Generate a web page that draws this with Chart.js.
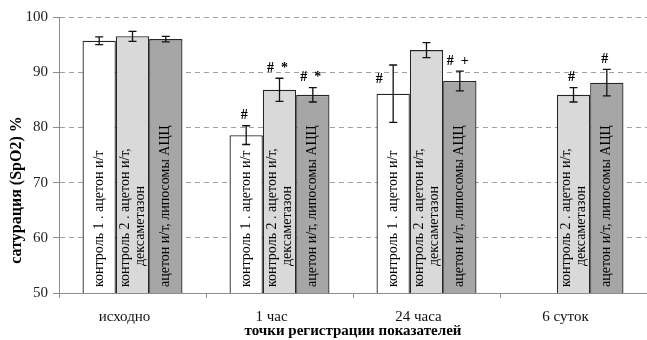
<!DOCTYPE html>
<html lang="ru">
<head>
  <meta charset="UTF-8">
  <title>Сатурация SpO2</title>
  <script src="https://cdn.jsdelivr.net/npm/chart.js"></script>
  <style>
    html, body {
      margin: 0;
      padding: 0;
      background: #ffffff;
    }
    #wrap {
      width: 647px;
      height: 340px;
      position: relative;
    }
  </style>
</head>
<body>
  <div id="wrap">
    <canvas id="chart"></canvas>
  </div>

  <script>
    // точки регистрации
    const categories = ['исходно', '1 час', '24 часа', '6 суток'];

    // средние значения SpO2, %
    const control1 = [95.7, 78.6, 86.1, null];
    const control2 = [96.5, 86.8, 94.0, 85.9];
    const liposomes = [96.0, 85.9, 88.4, 88.1];

    // ошибки среднего
    const control1Err = [0.7, 1.7, 5.2, null];
    const control2Err = [0.9, 2.1, 1.35, 1.3];
    const liposomesErr = [0.5, 1.3, 1.8, 2.4];

    // значки достоверности
    const control1Marks = ['', '#', '#', ''];
    const control2Marks = ['', '#  *', '', '#'];
    const liposomesMarks = ['', '#  *', '#  +', '#'];

    // подписи внутри столбиков
    const control1Text = ['контроль 1 . ацетон и/т'];
    const control2Text = ['контроль 2 . ацетон и/т,', 'дексаметазон'];
    const liposomesText = ['ацетон и/т, липосомы АЦЦ'];

    const yTicks = [50, 60, 70, 80, 90, 100];

    const serif = "'Liberation Serif', 'Times New Roman', serif";

    const errors = [control1Err, control2Err, liposomesErr];
    const marks = [control1Marks, control2Marks, liposomesMarks];
    const texts = [control1Text, control2Text, liposomesText];

    // ошибки, значки и подписи поверх столбиков
    const barExtras = {
      id: 'barExtras',
      afterDatasetsDraw(chart) {
        const ctx = chart.ctx;
        const y = chart.scales.y;
        const bottom = chart.chartArea.bottom;
        chart.data.datasets.forEach((ds, di) => {
          const meta = chart.getDatasetMeta(di);
          meta.data.forEach((bar, i) => {
            const v = ds.data[i];
            if (v === null) return;
            const err = errors[di][i];
            const yTop = y.getPixelForValue(v + err);
            const yBot = y.getPixelForValue(v - err);

            // подписи (повернутые)
            ctx.save();
            ctx.fillStyle = '#000';
            ctx.font = '14px ' + serif;
            ctx.textBaseline = 'middle';
            ctx.textAlign = 'left';
            const lines = texts[di];
            lines.forEach((line, li) => {
              const dx = lines.length > 1 ? (li === 0 ? -7 : 7.5) : 0;
              const start = li === 0 ? bottom - 6 : bottom - 27;
              ctx.save();
              ctx.translate(bar.x + dx, start);
              ctx.rotate(-Math.PI / 2);
              ctx.fillText(line, 0, 0);
              ctx.restore();
            });
            ctx.restore();

            // планки погрешностей
            ctx.save();
            ctx.strokeStyle = '#111';
            ctx.lineWidth = 1.3;
            ctx.beginPath();
            ctx.moveTo(bar.x, yTop);
            ctx.lineTo(bar.x, yBot);
            ctx.moveTo(bar.x - 4, yTop);
            ctx.lineTo(bar.x + 4, yTop);
            ctx.moveTo(bar.x - 4, yBot);
            ctx.lineTo(bar.x + 4, yBot);
            ctx.stroke();
            ctx.restore();

            // значки
            const m = marks[di][i];
            if (m) {
              ctx.save();
              ctx.fillStyle = '#000';
              ctx.font = 'bold 14px ' + serif;
              ctx.textAlign = 'center';
              ctx.textBaseline = 'middle';
              let mx = bar.x - 2;
              let my = yTop - 10;
              // у широкой планки значок стоит слева
              if (err > 4) {
                mx = bar.x - 14;
                my = bar.y - 14;
              }
              ctx.fillText(m, mx, my);
              ctx.restore();
            }
          });
        });

        // подпись оси Y
        ctx.save();
        ctx.fillStyle = '#000';
        ctx.font = 'bold 16px ' + serif;
        ctx.textAlign = 'center';
        ctx.textBaseline = 'middle';
        ctx.translate(17, 190);
        ctx.rotate(-Math.PI / 2);
        ctx.fillText('сатурация (SpO2) %', 0, 0);
        ctx.restore();
      }
    };

    const ctx = document.getElementById('chart').getContext('2d');
    new Chart(ctx, {
      type: 'bar',
      data: {
        labels: categories,
        datasets: [
          { label: 'контроль 1', data: control1, backgroundColor: '#ffffff' },
          { label: 'контроль 2', data: control2, backgroundColor: '#d9d9d9' },
          { label: 'липосомы АЦЦ', data: liposomes, backgroundColor: '#a6a6a6' }
        ]
      },
      options: {
        responsive: true,
        maintainAspectRatio: false,
        animation: false,
        layout: { padding: { top: 17, right: 0, left: 0, bottom: 0 } },
        datasets: {
          bar: {
            borderColor: '#262626',
            borderWidth: 1.3,
            borderSkipped: false,
            categoryPercentage: 0.68,
            barPercentage: 1.0
          }
        },
        plugins: {
          legend: { display: false },
          tooltip: { enabled: false }
        },
        scales: {
          x: {
            afterFit(scale) { scale.height = 47; },
            grid: {
              display: true,
              drawOnChartArea: false,
              offset: true,
              tickLength: 5,
              tickColor: '#8c8c8c'
            },
            border: { color: '#8c8c8c', width: 1 },
            ticks: {
              color: '#111',
              padding: 10,
              labelOffset: -8,
              font: { family: serif, size: 15 }
            },
            title: {
              display: true,
              text: 'точки регистрации показателей',
              color: '#000',
              padding: { top: 0, bottom: 0 },
              font: { family: serif, size: 15, weight: 'bold' }
            }
          },
          y: {
            min: 50,
            max: 100,
            afterFit(scale) { scale.width = 59; },
            afterBuildTicks(scale) {
              scale.ticks = yTicks.map(v => ({ value: v }));
            },
            grid: {
              color: '#a0a0a0',
              tickLength: 6,
              tickColor: '#8c8c8c',
              tickBorderDash: []
            },
            border: { color: '#8c8c8c', width: 1, dash: [5, 4] },
            ticks: {
              color: '#222',
              padding: 5,
              font: { family: serif, size: 15 }
            }
          }
        }
      },
      plugins: [barExtras]
    });
  </script>
</body>
</html>
